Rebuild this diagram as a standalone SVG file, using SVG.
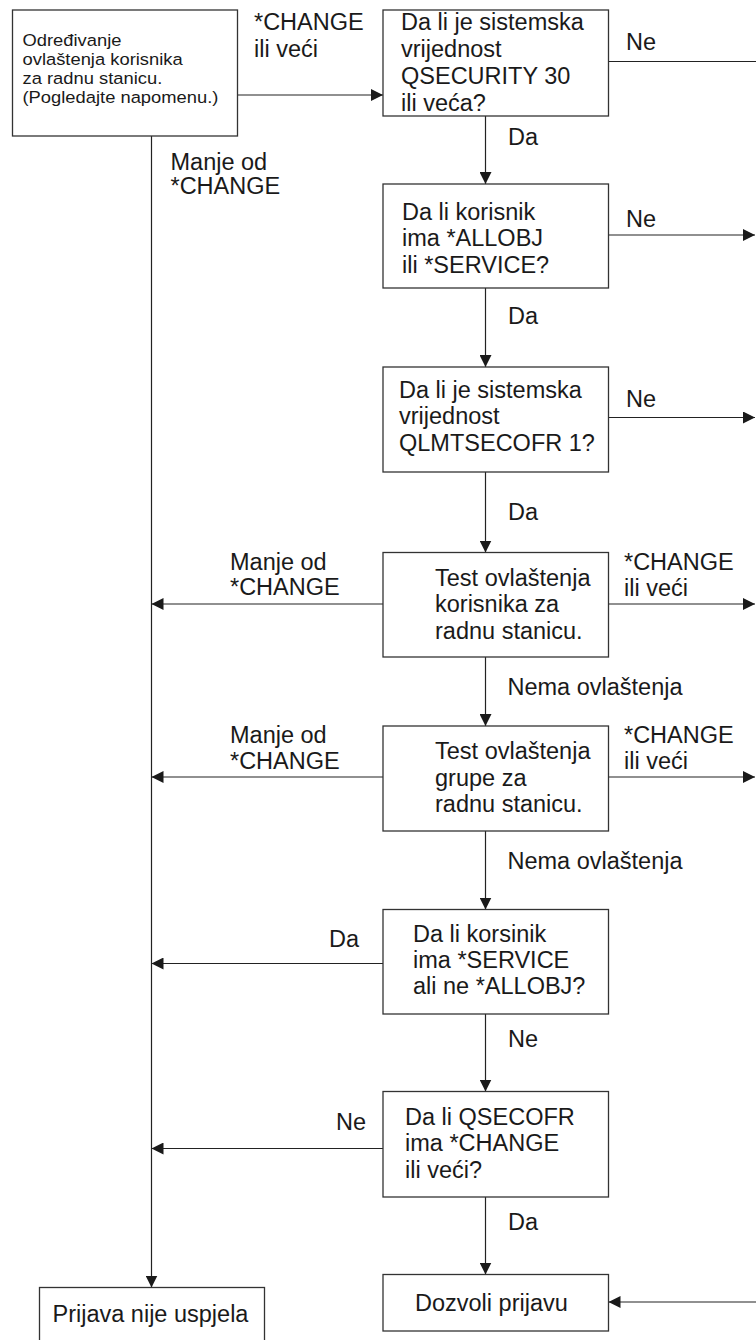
<svg xmlns="http://www.w3.org/2000/svg" width="756" height="1340" viewBox="0 0 756 1340">
<style>
.box{fill:#fff;stroke:#333;stroke-width:1.3}
.t{font-family:"Liberation Sans",Arial,Helvetica,sans-serif;font-size:23.5px;fill:#1a1a1a}
.s{font-size:17px}
.c{fill:none;stroke:#222;stroke-width:1.2}
.a{marker-end:url(#ah)}
</style>
<defs>
<marker id="ah" markerUnits="userSpaceOnUse" markerWidth="12" markerHeight="12" refX="12" refY="6" orient="auto"><path d="M0,0 L12,6 L0,12 z" fill="#1a1a1a"/></marker>
</defs>
<rect x="0" y="0" width="756" height="1340" fill="#fff"/>
<g id="connectors">
<path class="c a" d="M237.5,95 H383"/>
<path class="c" d="M608.5,61.5 H756"/>
<path class="c a" d="M485.5,116 V184"/>
<path class="c a" d="M608.5,235 H755"/>
<path class="c a" d="M485.5,288 V367"/>
<path class="c a" d="M608.5,417.5 H755"/>
<path class="c a" d="M485.5,472 V552.5"/>
<path class="c a" d="M383,604 H151.5"/>
<path class="c a" d="M608.5,604 H755"/>
<path class="c a" d="M485.5,657 V726"/>
<path class="c a" d="M383,777 H151.5"/>
<path class="c a" d="M608.5,777 H755"/>
<path class="c a" d="M485.5,831 V909.5"/>
<path class="c a" d="M383,963.5 H151.5"/>
<path class="c a" d="M485.5,1014 V1091.5"/>
<path class="c a" d="M383,1148.5 H151.5"/>
<path class="c a" d="M485.5,1197 V1274.5"/>
<path class="c a" d="M756,1302 H608.5"/>
<path class="c a" d="M151.5,136 V1287.5"/>
<g class="t">
<text x="254" y="30">*CHANGE</text><text x="254" y="56.5">ili veći</text>
<text x="170.5" y="169.5">Manje od</text><text x="170.5" y="194">*CHANGE</text>
<text x="626" y="50">Ne</text>
<text x="508" y="145">Da</text>
<text x="626" y="226.5">Ne</text>
<text x="508" y="323.5">Da</text>
<text x="626" y="406.5">Ne</text>
<text x="508" y="519.5">Da</text>
<text x="230" y="569.5">Manje od</text><text x="230" y="595">*CHANGE</text>
<text x="624" y="570">*CHANGE</text><text x="624" y="596">ili veći</text>
<text x="507.5" y="695">Nema ovlaštenja</text>
<text x="230" y="743">Manje od</text><text x="230" y="769">*CHANGE</text>
<text x="624" y="743">*CHANGE</text><text x="624" y="769">ili veći</text>
<text x="507.5" y="868.5">Nema ovlaštenja</text>
<text x="329" y="947">Da</text>
<text x="508" y="1047">Ne</text>
<text x="336" y="1130">Ne</text>
<text x="508" y="1230">Da</text>
</g>
</g>
<g id="n1">
<rect class="box" x="12.5" y="10" width="225" height="126"/>
<g transform="translate(22.5 0) scale(1.08 1)"><text class="t s"><tspan x="0" y="46.5">Određivanje</tspan><tspan x="0" y="65.5">ovlaštenja korisnika</tspan><tspan x="0" y="84.5">za radnu stanicu.</tspan><tspan x="0" y="103.5">(Pogledajte napomenu.)</tspan></text></g>
</g>
<g id="n2">
<rect class="box" x="383" y="10" width="225.5" height="106"/>
<text class="t"><tspan x="401" y="30">Da li je sistemska</tspan><tspan x="401" y="57">vrijednost</tspan><tspan x="401" y="84">QSECURITY 30</tspan><tspan x="401" y="111">ili veća?</tspan></text>
</g>
<g id="n3">
<rect class="box" x="383" y="184" width="225.5" height="104"/>
<text class="t"><tspan x="402" y="219.5">Da li korisnik</tspan><tspan x="402" y="246">ima *ALLOBJ</tspan><tspan x="402" y="272.5">ili *SERVICE?</tspan></text>
</g>
<g id="n4">
<rect class="box" x="383" y="367" width="225.5" height="105"/>
<text class="t"><tspan x="399" y="397.5">Da li je sistemska</tspan><tspan x="399" y="424">vrijednost</tspan><tspan x="399" y="451">QLMTSECOFR 1?</tspan></text>
</g>
<g id="n5">
<rect class="box" x="383" y="552.5" width="225.5" height="104.5"/>
<text class="t"><tspan x="435" y="585.5">Test ovlaštenja</tspan><tspan x="435" y="612">korisnika za</tspan><tspan x="435" y="638.5">radnu stanicu.</tspan></text>
</g>
<g id="n6">
<rect class="box" x="383" y="726" width="225.5" height="105"/>
<text class="t"><tspan x="435" y="759">Test ovlaštenja</tspan><tspan x="435" y="785.5">grupe za</tspan><tspan x="435" y="812">radnu stanicu.</tspan></text>
</g>
<g id="n7">
<rect class="box" x="383" y="909.5" width="225.5" height="104.5"/>
<text class="t"><tspan x="413" y="942">Da li korsinik</tspan><tspan x="413" y="968">ima *SERVICE</tspan><tspan x="413" y="994">ali ne *ALLOBJ?</tspan></text>
</g>
<g id="n8">
<rect class="box" x="383" y="1091.5" width="225.5" height="105.5"/>
<text class="t"><tspan x="405" y="1124.5">Da li QSECOFR</tspan><tspan x="405" y="1151">ima *CHANGE</tspan><tspan x="405" y="1177.5">ili veći?</tspan></text>
</g>
<g id="n9">
<rect class="box" x="383" y="1274.5" width="225.5" height="56.5"/>
<text class="t" x="415" y="1310.5">Dozvoli prijavu</text>
</g>
<g id="n10">
<rect class="box" x="39.5" y="1287.5" width="225" height="62"/>
<text class="t" x="52.5" y="1321.5">Prijava nije uspjela</text>
</g>
</svg>
